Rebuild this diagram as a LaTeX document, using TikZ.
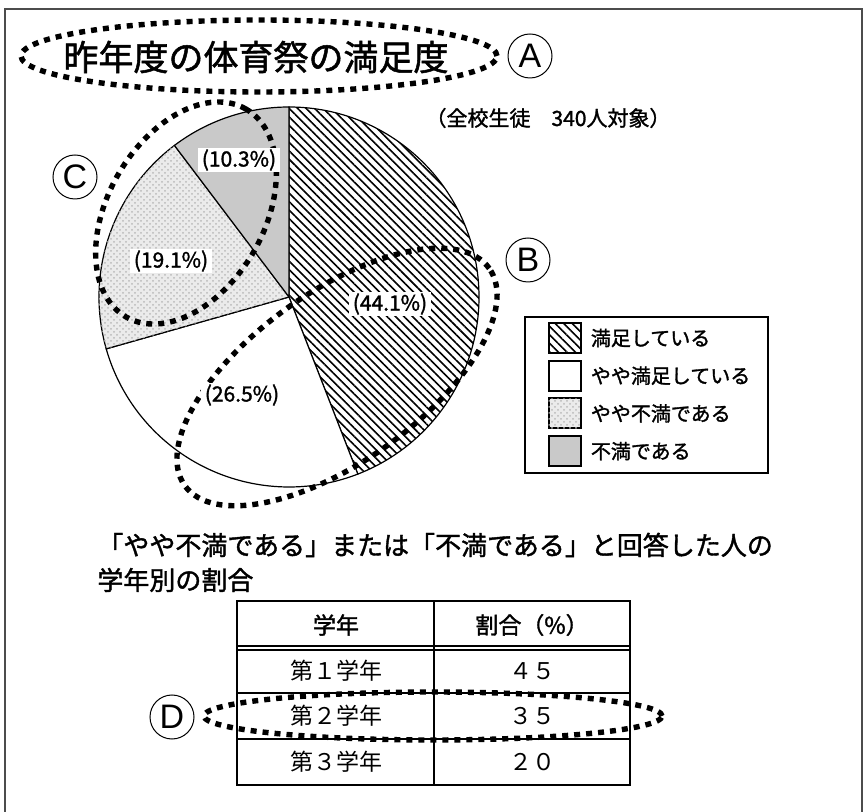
\documentclass[tikz,border=0pt]{standalone}
\usepackage{fontspec}
\setmainfont{Noto Sans CJK JP}
\newfontfamily\jpmid[FakeBold=1.5]{Noto Sans CJK JP}
\newfontfamily\latinsf{Liberation Sans}
\usepackage{tikz}
\usetikzlibrary{patterns, patterns.meta, positioning}
\newcommand{\fs}[1]{\fontsize{#1}{#1}\selectfont}

\begin{document}
\begin{tikzpicture}[x=0.5pt, y=0.5pt]
        \tikzstyle{sat}    = [draw, line width=0.6pt, pattern={Lines[angle=-45, distance=3pt, line width=0.8pt]}]
        \tikzstyle{ysat}   = [draw, line width=0.6pt, fill=white]
        \tikzstyle{ydis}   = [draw, line width=0.6pt, fill=gray!16, postaction={pattern=crosshatch dots, pattern color=gray!55}]
        \tikzstyle{dis}    = [draw, line width=0.6pt, fill=gray!42]
        \tikzstyle{oval}   = [line width=2.7pt, dash pattern=on 3pt off 3pt]
        \tikzstyle{ring}   = [draw, circle, line width=0.5pt, minimum size=22pt, inner sep=0pt, font=\latinsf\fs{17pt}]
        \tikzstyle{pct}    = [fill=white, inner xsep=2pt, inner ysep=0.5pt, font=\jpmid\fs{10.5pt}]
        \tikzstyle{tab}    = [line width=0.8pt]
        \tikzstyle{cell}   = [inner sep=0pt, font=\fs{11.5pt}]

        \useasboundingbox (0,0) rectangle (863,-812);

        % Frame.
        \draw[line width=1pt, black!70] (5,-812) -- (5,-9) -- (862,-9) -- (862,-812);

        % Title and note.
        \node[font=\jpmid\fs{17.5pt}] (title) at (256,-57) {昨年度の体育祭の満足度};
        \node[font=\jpmid\fs{10.5pt}] (note) at (548,-118) {（全校生徒　340人対象）};

        % Pie slices.
        \coordinate (ctr) at (289,-297);
        \foreach \a/\b/\sty in {90/-68.76/sat, -68.76/-164.16/ysat, -164.16/-232.92/ydis, -232.92/-270/dis}
            \draw[\sty] (ctr) -- ++(\a:190) arc[start angle=\a, end angle=\b, radius=190] -- cycle;

        % Dotted marks.
        \draw[oval] (259,-56) ellipse [x radius=238, y radius=36];
        \draw[oval, rotate around={35.5:(337,-377)}] (337,-377) ellipse [x radius=187, y radius=85];
        \draw[oval, rotate around={60:(186,-213)}] (186,-213) ellipse [x radius=120, y radius=78];
        \draw[oval] (433,-716) ellipse [x radius=229, y radius=24];

        % Percentages.
        \node[pct] (p1) at (390,-304) {(44.1\%)};
        \node[pct] (p2) at (242,-395) {(26.5\%)};
        \node[pct] (p3) at (171,-261) {(19.1\%)};
        \node[pct] (p4) at (239,-160) {(10.3\%)};

        % Letters.
        \node[ring] (A) at (530,-56) {A};
        \node[ring] (B) at (528,-260) {B};
        \node[ring] (C) at (75,-177) {C};
        \node[ring] (D) at (172,-717) {D};

        % Legend.
        \node[draw, line width=0.8pt, minimum width=121.5pt, minimum height=78pt] (legend) at (646.5,-395) {};
        \foreach \sty/\txt [count=\i] in {sat/満足している, ysat/やや満足している, ydis/やや不満である, dis/不満である} {
            \node[\sty, line width=1pt, minimum width=16pt, minimum height=15pt, inner sep=0pt] (sw\i) at (564.5,{-338-37.7*(\i-1)}) {};
            \node[inner sep=0pt, font=\jpmid\fs{10pt}, right=4.5pt of sw\i] (lt\i) {\txt};
        }

        % Question.
        \node[anchor=west, inner sep=0pt, font=\jpmid\fs{13pt}] (q1) at (97,-545) {「やや不満である」または「不満である」と回答した人の};
        \node[anchor=west, inner sep=0pt, font=\jpmid\fs{13pt}] (q2) at (97,-580) {学年別の割合};

        % Table.
        \draw[tab] (237,-601) rectangle (630,-785);
        \draw[tab] (434,-601) -- (434,-785);
        \foreach \y in {-646, -650, -693, -739}
            \draw[tab] (237,\y) -- (630,\y);
        \node[cell, font=\jpmid\fs{11.5pt}] (h1) at (336,-625) {学年};
        \node[cell, font=\jpmid\fs{11.5pt}] (h2) at (532,-625) {割合（\%）};
        \foreach \y/\ga/\wa [count=\i] in {-671/第１学年/４５, -716/第２学年/３５, -762/第３学年/２０} {
            \node[cell] (g\i) at (336,\y) {\ga};
            \node[cell] (w\i) at (532,\y) {\wa};
        }
\end{tikzpicture}
\end{document}
